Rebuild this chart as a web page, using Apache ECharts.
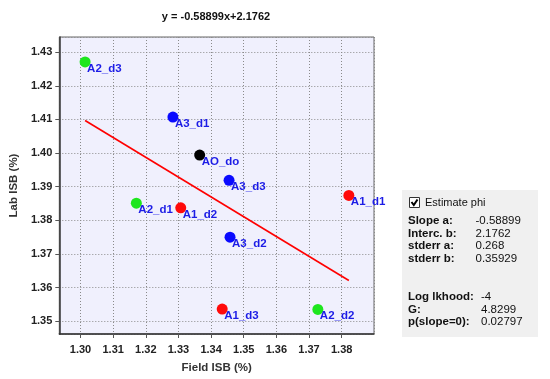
<!DOCTYPE html>
<html>
<head>
<meta charset="utf-8">
<script src="https://cdn.jsdelivr.net/npm/echarts@6/dist/echarts.min.js"></script>
<style>html,body{margin:0;padding:0;background:#fff;}#c{width:550px;height:379px;}</style>
</head>
<body>
<div id="c"></div>
<script>
// ---- data ----
var pointNames = ['A2_d3','A3_d1','AO_do','A3_d3','A2_d1','A1_d2','A3_d2','A1_d3','A1_d1','A2_d2'];
var fieldISB   = [1.3014, 1.3283, 1.3365, 1.3455, 1.3171, 1.3307, 1.3458, 1.3434, 1.3822, 1.3727];
var labISB     = [1.4271, 1.4107, 1.3994, 1.3919, 1.3851, 1.3837, 1.3750, 1.3536, 1.3874, 1.3535];
var groups     = ['A2','A3','AO','A3','A2','A1','A3','A1','A1','A2'];
var slopeA = -0.58899;
var interceptB = 2.1762;
var titleText = 'y = -0.58899x+2.1762';
var statLabels1 = ['Slope a:', 'Interc. b:', 'stderr a:', 'stderr b:'];
var statValues1 = ['-0.58899', '2.1762', '0.268', '0.35929'];
var statLabels2 = ['Log lkhood:', 'G:', 'p(slope=0):'];
var statValues2 = ['-4', '4.8299', '0.02797'];

var groupColors = {A1:'#ff0a0a', A2:'#1ee61e', A3:'#0a0aff', AO:'#000000'};

var chart = echarts.init(document.getElementById('c'), null, {renderer:'canvas'});

var scatterData = pointNames.map(function(n,i){
  return {name:n, value:[fieldISB[i], labISB[i]], itemStyle:{color:groupColors[groups[i]], opacity:1}};
});
var xMin = Math.min.apply(null, fieldISB), xMax = Math.max.apply(null, fieldISB);
var lineData = [[xMin, slopeA*xMin+interceptB],[xMax, slopeA*xMax+interceptB]];

var graphics = [
  {type:'rect', shape:{x:402,y:190,width:136,height:147}, style:{fill:'#f0f0f0'}, silent:true},
  {type:'rect', shape:{x:409.5,y:197.5,width:10,height:10}, style:{fill:'#ffffff', stroke:'#333', lineWidth:1}},
  {type:'polyline', shape:{points:[[411.5,202],[413.8,205],[417.5,199.5]]}, style:{stroke:'#000', lineWidth:2, fill:null}},
  {type:'text', x:425, y:203, style:{text:'Estimate phi', font:'11px "Liberation Sans"', fill:'#111', verticalAlign:'middle'}}
];
var y1 = [221.3, 233.8, 246.3, 258.8];
statLabels1.forEach(function(t,i){
  graphics.push({type:'text', x:408, y:y1[i], style:{text:t, font:'bold 11.5px "Liberation Sans"', fill:'#111', verticalAlign:'middle'}});
  graphics.push({type:'text', x:475.5, y:y1[i], style:{text:statValues1[i], font:'11.5px "Liberation Sans"', fill:'#111', verticalAlign:'middle'}});
});
var y2 = [297.3, 309.6, 321.9];
statLabels2.forEach(function(t,i){
  graphics.push({type:'text', x:408, y:y2[i], style:{text:t, font:'bold 11.5px "Liberation Sans"', fill:'#111', verticalAlign:'middle'}});
  graphics.push({type:'text', x:481, y:y2[i], style:{text:statValues2[i], font:'11.5px "Liberation Sans"', fill:'#111', verticalAlign:'middle'}});
});

var axisFont = {fontFamily:'Liberation Sans', fontWeight:'bold', fontSize:11, color:'#222'};

chart.setOption({
  animation:false,
  backgroundColor:'#ffffff',
  title:{text:titleText, left:211, top:6, textAlign:'center',
    textStyle:{fontFamily:'Liberation Sans', fontWeight:'bold', fontSize:11, color:'#111'}},
  grid:{left:59, top:37, right:176, bottom:42, show:true, backgroundColor:'#f0f0fd', borderColor:'#666', borderWidth:1},
  xAxis:{type:'value', min:1.2935, max:1.3899, splitNumber:9, minInterval:0.01, maxInterval:0.01,
    name:'Field ISB (%)', nameLocation:'middle', nameGap:28,
    nameTextStyle:{fontFamily:'Liberation Sans', fontWeight:'bold', fontSize:11.5, color:'#333'},
    axisLine:{show:true, onZero:false, lineStyle:{color:'#333', width:1.5}},
    axisTick:{show:true, length:4, lineStyle:{color:'#555'}},
    axisLabel:Object.assign({margin:10, showMinLabel:false, showMaxLabel:false, formatter:function(v){return v.toFixed(2);}}, axisFont),
    splitLine:{show:true, lineStyle:{color:'#8a8a8a', type:[1,2], width:1}}
  },
  yAxis:{type:'value', min:1.3462, max:1.4345, splitNumber:9, minInterval:0.01, maxInterval:0.01,
    name:'Lab ISB (%)', nameLocation:'middle', nameGap:32,
    nameTextStyle:{fontFamily:'Liberation Sans', fontWeight:'bold', fontSize:11.5, color:'#333'},
    axisLine:{show:true, onZero:false, lineStyle:{color:'#333', width:1.5}},
    axisTick:{show:true, length:4, lineStyle:{color:'#555'}},
    axisLabel:Object.assign({margin:7, showMinLabel:false, showMaxLabel:false, formatter:function(v){return v.toFixed(2);}}, axisFont),
    splitLine:{show:true, lineStyle:{color:'#8a8a8a', type:[1,2], width:1}}
  },
  series:[
    {type:'line', data:lineData, showSymbol:false, symbol:'none', lineStyle:{color:'#ff0000', width:1.6}, z:2},
    {type:'scatter', data:scatterData, symbolSize:11, z:3,
      label:{show:true, position:[7.5,12], align:'left', verticalAlign:'middle',
        formatter:function(p){return p.name;}, fontFamily:'Liberation Sans', fontWeight:'bold', fontSize:11.5, color:'#1c1ce6'}}
  ],
  graphic:graphics
});
</script>
</body>
</html>
